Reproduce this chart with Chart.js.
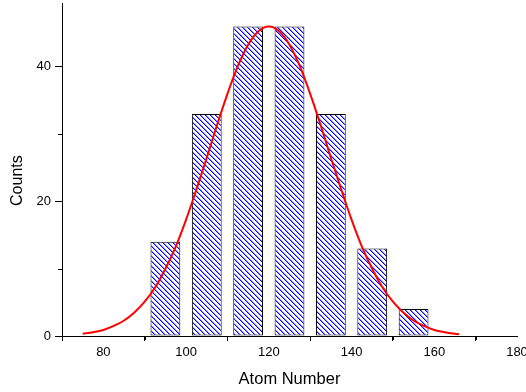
<!DOCTYPE html>
<html>
<head>
<meta charset="utf-8">
<script src="https://cdn.jsdelivr.net/npm/chart.js@4"></script>
<style>
  html, body { margin: 0; padding: 0; background: #fff; }
  #chart { display: block; }
</style>
</head>
<body>
<canvas id="chart" width="526" height="392"></canvas>
<script>
// histogram bins
const binCenters = [95, 105, 115, 125, 135, 145, 155];
const counts = [14, 33, 46, 46, 33, 13, 4];

// red fit curve
const fitX = [75, 77.5, 80, 82.5, 85, 87.5, 90, 92.5, 95, 97.5, 100, 102.5, 105, 107.5, 110, 112.5, 115, 117.5,
    120, 122.5, 125, 127.5, 130, 132.5, 135, 137.5, 140, 142.5, 145, 147.5, 150, 152.5, 155, 157.5, 160, 162.5, 165, 166];
const fitY = [0.33, 0.56, 0.9, 1.5, 2.3, 3.5, 5.1, 7.2, 10.0, 13.3, 17.3, 21.8, 26.5, 31.4, 36.0, 40.1, 43.3, 45.3,
    46.0, 45.3, 43.3, 40.1, 36.0, 31.4, 26.5, 21.8, 17.3, 13.3, 10.0, 7.2, 5.1, 3.5, 2.3, 1.5, 0.9, 0.56, 0.33, 0.26];

// axis ticks
const xTicks = [80, 100, 120, 140, 160, 180];
const xMinor = [70, 90, 110, 130, 150, 170];
const yTicks = [0, 20, 40];
const yMinor = [10, 30];

// blue diagonal hatch, drawn pixel by pixel so it stays crisp
function makeHatch() {
    const s = 5;
    const c = document.createElement('canvas');
    c.width = s;
    c.height = s;
    const g = c.getContext('2d');
    g.fillStyle = '#fff';
    g.fillRect(0, 0, s, s);
    for (let i = 0; i < s; i++) {
        g.fillStyle = '#0000ff';
        g.fillRect(i, i, 1, 1);
        g.fillStyle = '#9090ff';
        g.fillRect((i + 1) % s, i, 1, 1);
    }
    return g.createPattern(c, 'repeat');
}

const minorTicks = {
    id: 'minorTicks',
    afterDraw(chart) {
        const { ctx, scales: { x, y } } = chart;
        ctx.save();
        ctx.strokeStyle = '#000';
        ctx.lineWidth = 1;
        ctx.beginPath();
        xMinor.forEach(v => {
            const px = Math.round(x.getPixelForValue(v)) + 0.5;
            ctx.moveTo(px, x.top);
            ctx.lineTo(px, x.top + 4);
        });
        yMinor.forEach(v => {
            const py = Math.round(y.getPixelForValue(v)) + 0.5;
            ctx.moveTo(y.right, py);
            ctx.lineTo(y.right - 4, py);
        });
        ctx.stroke();
        ctx.restore();
    }
};

const font = 'Liberation Sans, Arial, sans-serif';
const ctx = document.getElementById('chart').getContext('2d');

new Chart(ctx, {
    type: 'bar',
    data: {
        datasets: [
            {
                type: 'line',
                data: fitX.map((x, i) => ({ x: x, y: fitY[i] })),
                borderColor: '#ff0000',
                borderWidth: 2,
                pointRadius: 0,
                cubicInterpolationMode: 'monotone',
                fill: false,
                order: 0
            },
            {
                type: 'bar',
                data: binCenters.map((x, i) => ({ x: x, y: counts[i] })),
                backgroundColor: makeHatch(),
                borderColor: '#000',
                borderWidth: 1,
                borderSkipped: false,
                barPercentage: 0.72,
                categoryPercentage: 1,
                order: 1
            }
        ]
    },
    options: {
        responsive: false,
        animation: false,
        devicePixelRatio: 1,
        layout: { padding: { top: 3, right: 9, left: 0, bottom: 0 } },
        plugins: {
            legend: { display: false },
            tooltip: { enabled: false }
        },
        scales: {
            x: {
                type: 'linear',
                offset: false,
                min: 70,
                max: 180,
                afterBuildTicks: s => { s.ticks = xTicks.map(v => ({ value: v })); },
                afterFit: s => {
                    s.height = 56;
                    s.paddingLeft = 0;
                    s.paddingRight = 0;
                },
                grid: { display: true, drawOnChartArea: false, drawTicks: true, tickLength: 5, color: '#000' },
                border: { display: true, color: '#000', width: 1 },
                ticks: { color: '#000', padding: 4, maxRotation: 0, autoSkip: false, font: { family: font, size: 13 } },
                title: {
                    display: true,
                    text: 'Atom Number',
                    color: '#000',
                    font: { family: font, size: 16.5 },
                    padding: { top: 0, bottom: 3 }
                }
            },
            y: {
                min: 0,
                max: 49.5,
                afterBuildTicks: s => { s.ticks = yTicks.map(v => ({ value: v })); },
                afterFit: s => {
                    s.width = 62;
                    s.paddingTop = 0;
                    s.paddingBottom = 0;
                },
                grid: { display: true, drawOnChartArea: false, drawTicks: true, tickLength: 7, color: '#000' },
                border: { display: true, color: '#000', width: 1 },
                ticks: { color: '#000', padding: 4, font: { family: font, size: 13 } },
                title: {
                    display: true,
                    text: 'Counts     ',
                    color: '#000',
                    font: { family: font, size: 16 },
                    padding: { top: 8, bottom: 0 }
                }
            }
        }
    },
    plugins: [minorTicks]
});
</script>
</body>
</html>
